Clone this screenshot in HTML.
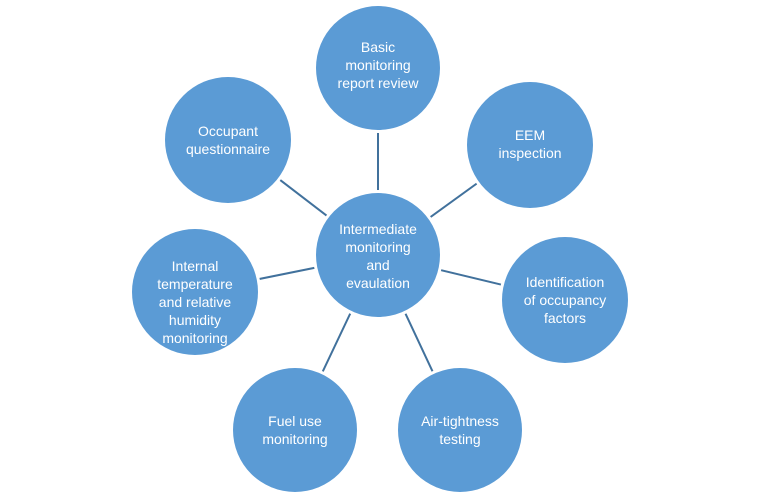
<!DOCTYPE html>
<html><head><style>body{margin:0;background:#fff}svg{display:block}text{font-family:"Liberation Sans",sans-serif;font-size:14px;fill:#fff;text-anchor:middle}</style></head>
<body>
<svg width="760" height="500" viewBox="0 0 760 500">
<g stroke="#41719C" stroke-width="2">
<line x1="378" y1="255" x2="378" y2="68"/>
<line x1="378" y1="255" x2="228" y2="140"/>
<line x1="378" y1="255" x2="530" y2="145"/>
<line x1="378" y1="255" x2="565" y2="300"/>
<line x1="378" y1="255" x2="460" y2="430"/>
<line x1="378" y1="255" x2="295" y2="430"/>
<line x1="378" y1="255" x2="195" y2="292"/>
</g>
<g fill="#fff">
<circle cx="378" cy="68" r="65"/><circle cx="378" cy="255" r="65"/><circle cx="228" cy="140" r="66"/><circle cx="530" cy="145" r="66"/><circle cx="565" cy="300" r="66"/><circle cx="460" cy="430" r="65"/><circle cx="295" cy="430" r="65"/><circle cx="195" cy="292" r="66"/>
</g>
<g fill="#5B9BD5">
<circle cx="378" cy="68" r="62"/><circle cx="378" cy="255" r="62"/><circle cx="228" cy="140" r="63"/><circle cx="530" cy="145" r="63"/><circle cx="565" cy="300" r="63"/><circle cx="460" cy="430" r="62"/><circle cx="295" cy="430" r="62"/><circle cx="195" cy="292" r="63"/>
</g>
<text x="378" y="52">Basic</text><text x="378" y="70">monitoring</text><text x="378" y="88">report review</text>
<text x="228" y="136">Occupant</text><text x="228" y="154">questionnaire</text>
<text x="530" y="140">EEM</text><text x="530" y="158">inspection</text>
<text x="378" y="234">Intermediate</text><text x="378" y="252">monitoring</text><text x="378" y="270">and</text><text x="378" y="288">evaulation</text>
<text x="195" y="271">Internal</text><text x="195" y="289">temperature</text><text x="195" y="307">and relative</text><text x="195" y="325">humidity</text><text x="195" y="343">monitoring</text>
<text x="565" y="287">Identification</text><text x="565" y="305">of occupancy</text><text x="565" y="323">factors</text>
<text x="295" y="426">Fuel use</text><text x="295" y="444">monitoring</text>
<text x="460" y="426">Air-tightness</text><text x="460" y="444">testing</text>
</svg>
</body></html>
